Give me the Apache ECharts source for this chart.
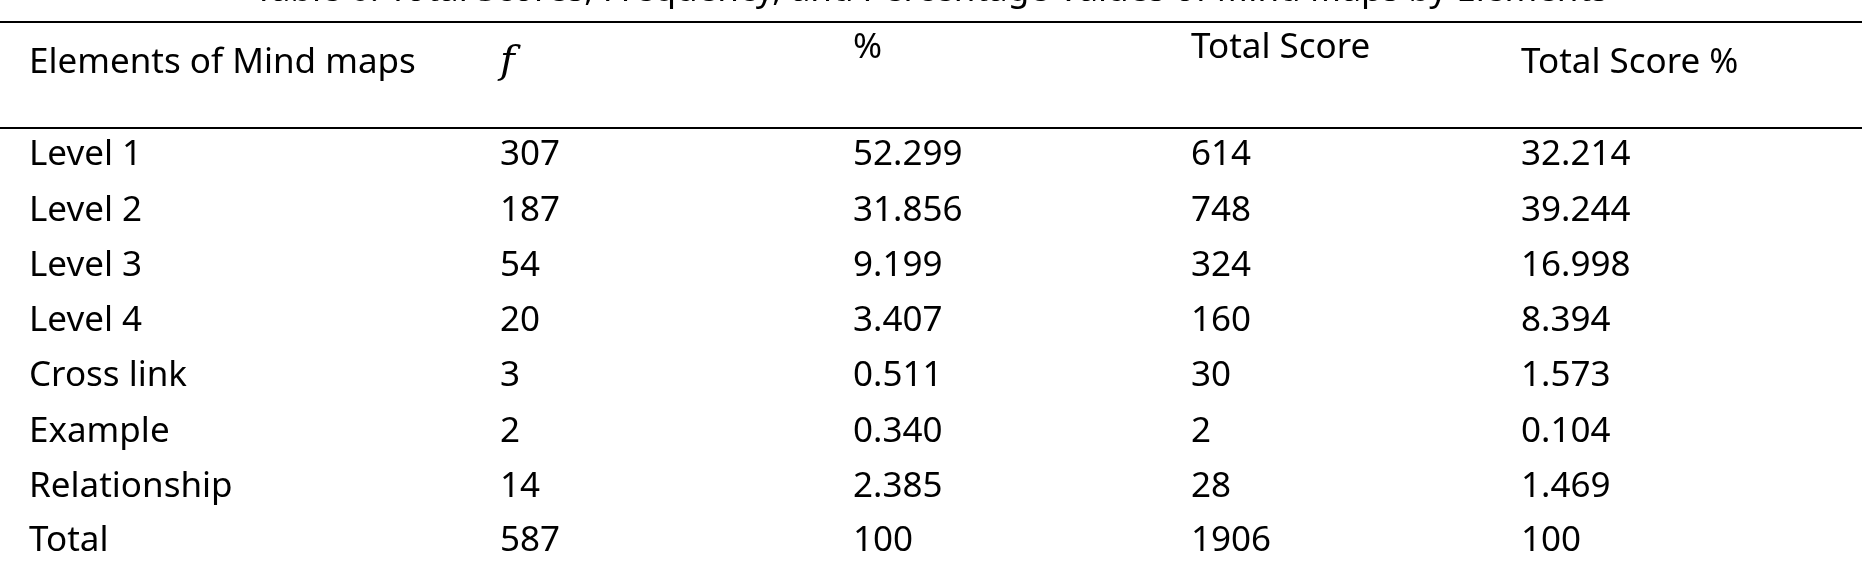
<!DOCTYPE html>
<html>
<head>
<meta charset="utf-8">
<script src="https://cdn.jsdelivr.net/npm/echarts@6/dist/echarts.min.js"></script>
<style>html,body{margin:0;padding:0;background:#fff;}#main{width:1862px;height:566px;}</style>
</head>
<body>
<div id="main"></div>
<script>
// table data
var title = "Table 6. Total Scores, Frequency, and Percentage Values of Mind Maps by Elements";
var headers = ["Elements of Mind maps", "f", "%", "Total Score", "Total Score %"];
var elements = ["Level 1", "Level 2", "Level 3", "Level 4", "Cross link", "Example", "Relationship", "Total"];
var freq = ["307", "187", "54", "20", "3", "2", "14", "587"];
var pct = ["52.299", "31.856", "9.199", "3.407", "0.511", "0.340", "2.385", "100"];
var totalScore = ["614", "748", "324", "160", "30", "2", "28", "1906"];
var totalScorePct = ["32.214", "39.244", "16.998", "8.394", "1.573", "0.104", "1.469", "100"];

var chart = echarts.init(document.getElementById("main"));
var font = "35px 'Noto Sans', sans-serif";
var colX = [29, 500, 853, 1191, 1521];
var headY = [63, 63, 48, 48, 63];
var rowY = [155, 211, 266, 321, 376, 432, 487, 541];

var els = [];
els.push({ type: "text", left: "center", top: -26, style: { text: title, font: font, fill: "#000" } });
els.push({ type: "rect", shape: { x: 0, y: 21, width: 1862, height: 2 }, style: { fill: "#000" } });
els.push({ type: "rect", shape: { x: 0, y: 127, width: 1862, height: 2 }, style: { fill: "#000" } });
headers.forEach(function (h, i) {
  els.push({
    type: "text", x: colX[i], y: headY[i],
    style: {
      text: h, fill: "#000", textVerticalAlign: "middle",
      font: i === 1 ? "italic 40px 'DejaVu Serif', serif" : font
    }
  });
});
var cols = [elements, freq, pct, totalScore, totalScorePct];
cols.forEach(function (col, c) {
  col.forEach(function (v, r) {
    els.push({ type: "text", x: colX[c], y: rowY[r], style: { text: v, font: font, fill: "#000", textVerticalAlign: "middle" } });
  });
});

option = {
  backgroundColor: "#fff",
  graphic: { elements: els }
};
chart.setOption(option);
</script>
</body>
</html>
